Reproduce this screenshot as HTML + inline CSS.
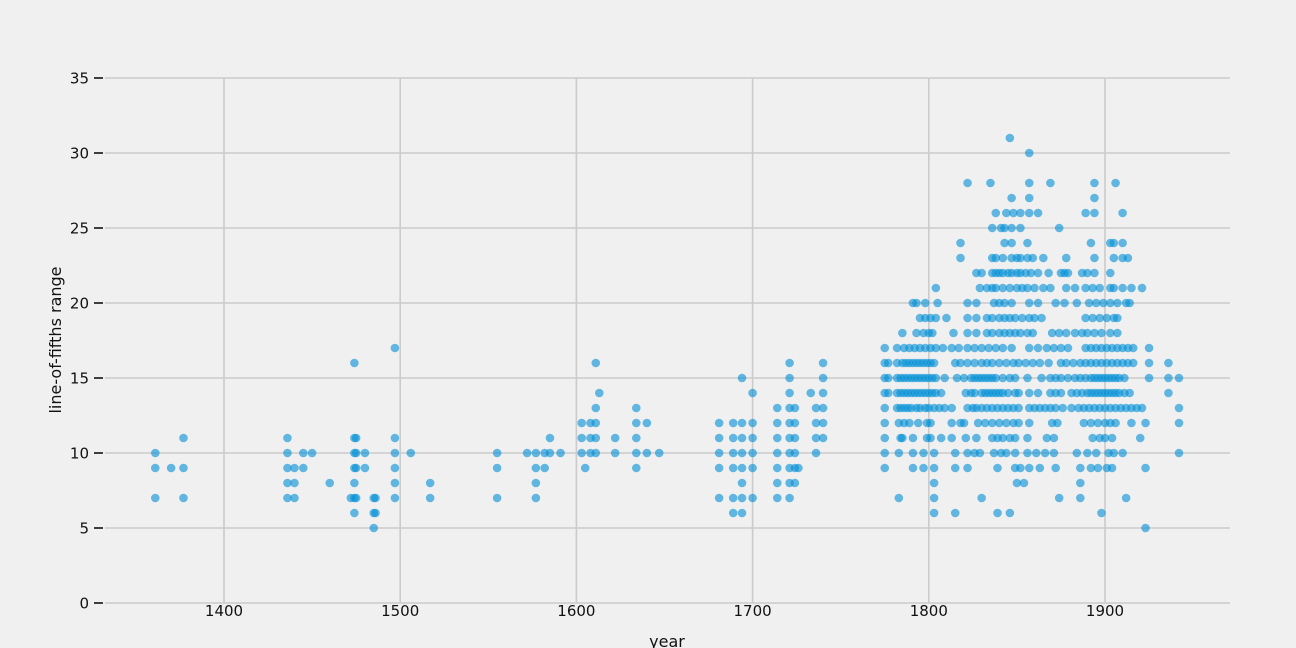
<!DOCTYPE html>
<html><head><meta charset="utf-8"><style>
html,body{margin:0;padding:0;background:#f0f0f0;}
svg{display:block;font-family:"DejaVu Sans","Liberation Sans",sans-serif;}
</style></head><body>
<svg id="chart" width="1296" height="648" viewBox="0 0 1296 648">
<rect x="0" y="0" width="1296" height="648" fill="#f0f0f0"/>
<g id="grid"></g>
<g id="axes"></g>
<g id="points"></g>
<text transform="translate(61,340) rotate(-90)" text-anchor="middle" font-size="16" fill="#111">line-of-fifths range</text>
<text x="667" y="647" text-anchor="middle" font-size="16" fill="#111">year</text>
</svg>
<script>
const xTicks = [1400, 1500, 1600, 1700, 1800, 1900];
const yTicks = [0, 5, 10, 15, 20, 25, 30, 35];
// early points: [year, range]
const earlyPoints = [
[1361,10],[1361,9],[1361,7],[1370,9],[1377,11],[1377,9],[1377,7],
[1436,11],[1436,10],[1436,9],[1436,8],[1436,7],[1440,9],[1440,8],[1440,7],[1445,10],[1445,9],[1450,10],[1460,8],
[1474,16],[1474,11],[1474,10],[1474,9],[1474,8],[1474,7],[1474,6],[1475,11],[1475,10],[1475,9],[1475,7],[1472,7],
[1480,10],[1480,9],[1485,7],[1485,6],[1485,5],[1486,7],[1486,6],
[1497,17],[1497,11],[1497,10],[1497,9],[1497,8],[1497,7],[1506,10],[1517,8],[1517,7],
[1555,10],[1555,9],[1555,7],[1572,10],[1577,10],[1577,9],[1577,8],[1577,7],[1582,10],[1582,9],[1585,11],[1585,10],[1591,10],
[1603,12],[1603,11],[1603,10],[1605,9],[1608,12],[1608,11],[1608,10],[1611,16],[1611,13],[1611,12],[1611,11],[1611,10],[1613,14],
[1622,11],[1622,10],[1634,13],[1634,12],[1634,11],[1634,10],[1634,9],[1640,12],[1640,10],[1647,10],
[1681,12],[1681,11],[1681,10],[1681,9],[1681,7],[1689,12],[1689,11],[1689,10],[1689,9],[1689,7],[1689,6],
[1694,15],[1694,12],[1694,11],[1694,10],[1694,9],[1694,8],[1694,7],[1694,6],
[1700,14],[1700,12],[1700,11],[1700,10],[1700,9],[1700,7],
[1714,13],[1714,12],[1714,11],[1714,10],[1714,9],[1714,8],[1714,7],
[1721,16],[1721,15],[1721,14],[1721,13],[1721,12],[1721,11],[1721,10],[1721,9],[1721,8],[1721,7],
[1724,13],[1724,12],[1724,11],[1724,10],[1724,9],[1724,8],[1726,9],[1733,14],
[1736,13],[1736,12],[1736,11],[1736,10],[1740,16],[1740,15],[1740,14],[1740,13],[1740,12],[1740,11]
];
// dense region: values per row, with years per row
const rowValues = [31,30,28,27,26,25,24,23,22,21,20,19,18,17,16,15,14,13,12,11,10,9,8,7,6,5];
const rowYears = [
[1846],
[1857],
[1822,1835,1857,1869,1894,1906],
[1847,1857,1894],
[1838,1844,1848,1852,1857,1862,1889,1894,1910],
[1836,1841,1843,1847,1852,1874],
[1818,1843,1847,1856,1892,1903,1905,1910],
[1818,1836,1838,1842,1847,1850,1852,1856,1859,1865,1878,1894,1905,1910,1913],
[1827,1830,1836,1838,1840,1842,1845,1847,1850,1852,1855,1858,1862,1868,1875,1877,1879,1887,1890,1894,1903],
[1804,1829,1833,1836,1838,1842,1846,1850,1853,1856,1860,1865,1869,1878,1883,1889,1893,1897,1903,1905,1910,1915,1921],
[1791,1793,1798,1805,1822,1827,1837,1840,1843,1847,1857,1862,1872,1877,1884,1891,1895,1899,1903,1907,1912,1914],
[1795,1798,1801,1804,1810,1822,1827,1833,1836,1840,1843,1846,1849,1853,1857,1860,1864,1889,1893,1897,1901,1905,1907],
[1785,1793,1797,1800,1802,1814,1822,1827,1833,1836,1840,1843,1846,1849,1852,1856,1859,1870,1874,1878,1883,1887,1890,1894,1898,1903,1907],
[1775,1782,1786,1789,1792,1795,1798,1801,1804,1808,1813,1817,1822,1826,1830,1834,1838,1842,1847,1857,1862,1867,1871,1875,1879,1889,1892,1895,1898,1901,1904,1907,1910,1913,1916,1925],
[1775,1777,1782,1785,1787,1789,1791,1793,1795,1797,1799,1801,1803,1815,1818,1822,1826,1830,1833,1836,1840,1844,1848,1851,1855,1859,1863,1868,1875,1878,1882,1886,1889,1892,1895,1898,1901,1904,1907,1910,1913,1916,1925,1936],
[1775,1777,1782,1784,1786,1788,1790,1792,1794,1796,1798,1800,1802,1804,1809,1816,1820,1824,1826,1828,1830,1832,1834,1836,1838,1842,1846,1849,1856,1864,1869,1872,1875,1879,1883,1886,1889,1892,1894,1896,1898,1900,1902,1904,1906,1908,1911,1925,1936,1942],
[1775,1777,1782,1784,1786,1788,1790,1792,1794,1796,1798,1800,1802,1804,1807,1821,1824,1826,1830,1832,1834,1836,1838,1840,1842,1845,1849,1851,1857,1862,1869,1872,1875,1881,1884,1887,1890,1892,1894,1896,1898,1900,1902,1904,1906,1908,1911,1914,1936],
[1775,1782,1784,1786,1788,1790,1793,1795,1798,1800,1803,1806,1809,1813,1822,1825,1827,1830,1833,1836,1839,1842,1845,1848,1851,1857,1860,1863,1866,1869,1872,1876,1881,1885,1888,1891,1894,1897,1900,1903,1906,1909,1912,1915,1918,1921,1942],
[1775,1783,1786,1789,1794,1799,1801,1813,1818,1820,1828,1832,1836,1840,1844,1848,1851,1857,1870,1873,1888,1892,1896,1900,1903,1906,1915,1923,1942],
[1775,1784,1785,1791,1799,1801,1807,1813,1821,1827,1836,1839,1842,1846,1849,1856,1867,1871,1893,1897,1900,1904,1920],
[1775,1783,1791,1797,1803,1815,1822,1826,1829,1837,1841,1844,1849,1856,1861,1866,1871,1884,1890,1895,1902,1905,1910,1942],
[1775,1791,1797,1803,1815,1822,1839,1849,1852,1857,1863,1872,1886,1892,1896,1901,1904,1923],
[1803,1850,1854,1886],
[1783,1803,1830,1874,1886,1912],
[1803,1815,1839,1846,1898],
[1923]
];
const NS = "http://www.w3.org/2000/svg";
const X0 = 1400, XPX0 = 224, XSCALE = 1.762;
const Y0PX = 603, YSCALE = 15;
function xScale(v){ return XPX0 + (v - X0) * XSCALE; }
function yScale(v){ return Y0PX - v * YSCALE; }
const grid = document.getElementById('grid');
const axes = document.getElementById('axes');
const pts = document.getElementById('points');
function mk(tag, attrs, parent){ const e = document.createElementNS(NS, tag); for (const k in attrs) e.setAttribute(k, attrs[k]); parent.appendChild(e); return e; }
yTicks.forEach(t => {
  const y = yScale(t);
  const l = mk('line', {x1:105, x2:1230, y1:y, y2:y, stroke:'#cbcbcb', 'stroke-width':1.6}, grid);
  
  
  const tk = mk('line', {x1:94, x2:103, y1:y, y2:y, stroke:'#111', 'stroke-width':1.6}, axes);
  
  
  const tx = mk('text', {x:89, y:y+5.5, 'text-anchor':'end', 'font-size':15, fill:'#111'}, axes);
  tx.textContent = t;
  
  
});
xTicks.forEach(t => {
  const x = xScale(t);
  const l = mk('line', {x1:x, x2:x, y1:78, y2:603, stroke:'#cbcbcb', 'stroke-width':1.6}, grid);
  
  
  const tx = mk('text', {x:x, y:616, 'text-anchor':'middle', 'font-size':15, fill:'#111'}, axes);
  tx.textContent = t;
  
  
});
function dot(yr, v){
  const c = mk('circle', {cx:xScale(yr), cy:yScale(v), r:4.3, fill:'#008fd5', 'fill-opacity':0.6}, pts);
  
  
}
earlyPoints.forEach(p => dot(p[0], p[1]));
rowValues.forEach((v, i) => rowYears[i].forEach(yr => dot(yr, v)));
</script>
</body></html>
